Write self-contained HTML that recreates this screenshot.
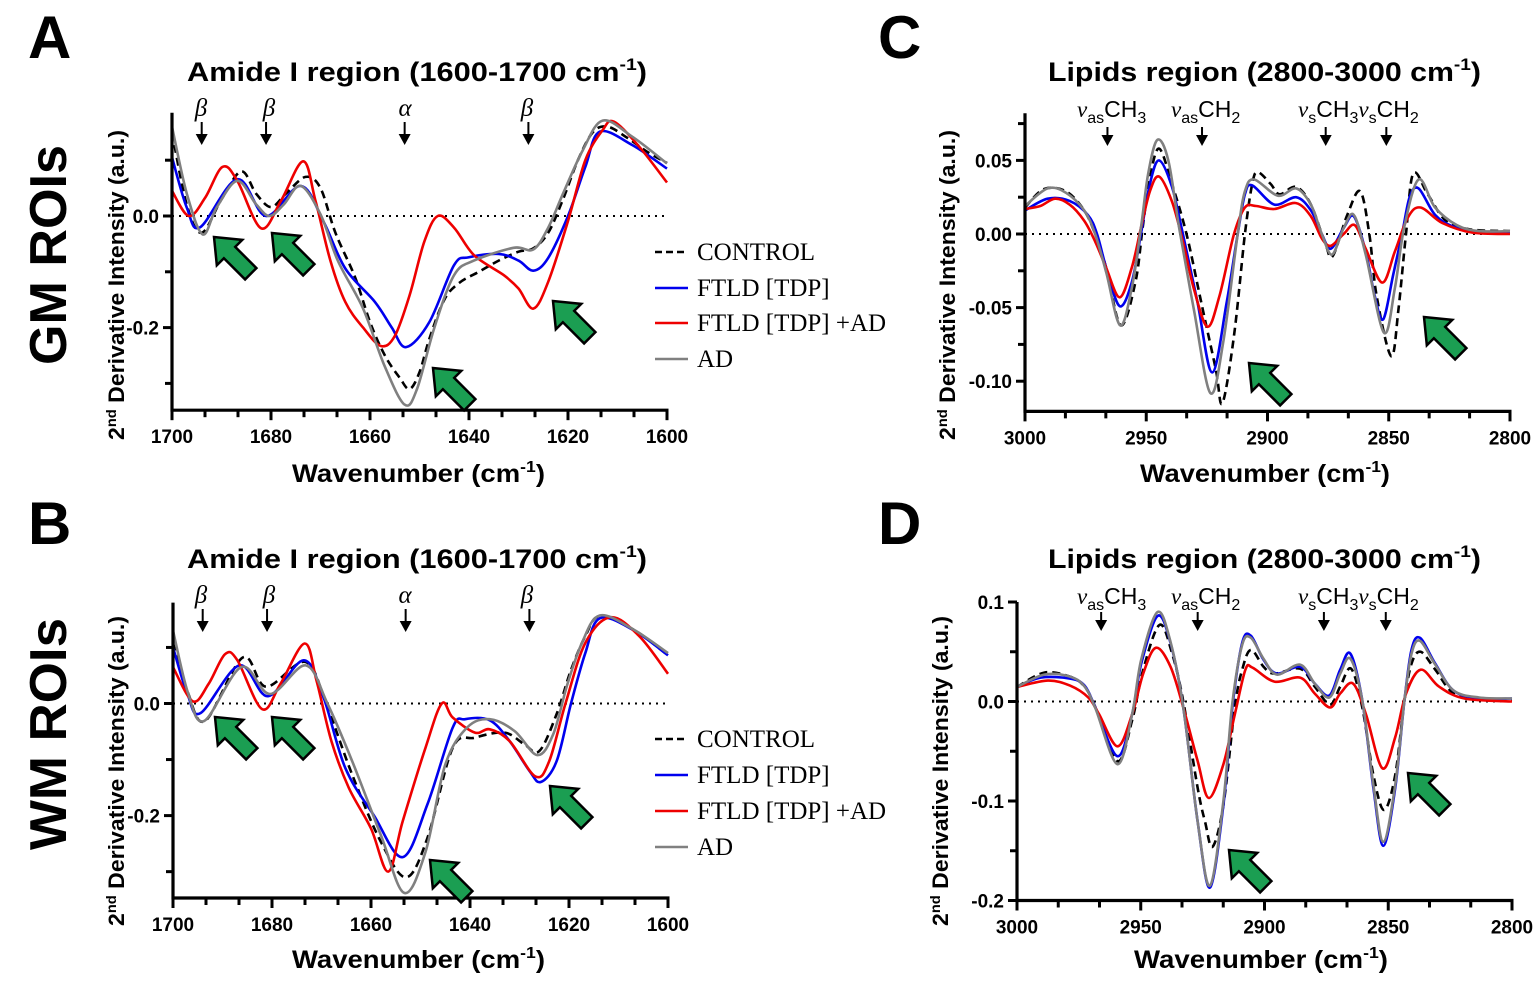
<!DOCTYPE html>
<html><head><meta charset="utf-8"><style>
html,body{margin:0;padding:0;background:#fff;}
svg{display:block;}
text{font-family:"Liberation Sans",Arial,sans-serif;}
.b{font-weight:bold;}
.tick{font-size:19px;font-weight:bold;}
.leg{font-family:"Liberation Serif",serif;font-size:25px;}
.ann{font-family:"Liberation Serif",serif;font-style:italic;font-size:25px;}
.ann2{font-family:"Liberation Sans",sans-serif;font-size:23px;}
</style></head><body>
<svg id="fig" width="1535" height="981" viewBox="0 0 1535 981" xmlns="http://www.w3.org/2000/svg">
<rect width="1535" height="981" fill="#fff"/>
<text x="28" y="58" class="b" font-size="60">A</text>
<text x="28" y="544" class="b" font-size="60">B</text>
<text x="878" y="58" class="b" font-size="60">C</text>
<text x="878" y="544" class="b" font-size="60">D</text>
<text transform="translate(66,255) rotate(-90)" text-anchor="middle" class="b" font-size="52" textLength="220" lengthAdjust="spacingAndGlyphs">GM ROIs</text>
<text transform="translate(66,734) rotate(-90)" text-anchor="middle" class="b" font-size="52" textLength="232" lengthAdjust="spacingAndGlyphs">WM ROIs</text>
<text x="187" y="81" class="b" font-size="27" textLength="460" lengthAdjust="spacingAndGlyphs">Amide I region (1600-1700 cm<tspan dy="-11" font-size="17">-1</tspan><tspan dy="11">)</tspan></text>
<text x="1048" y="81" class="b" font-size="27" textLength="433" lengthAdjust="spacingAndGlyphs">Lipids region (2800-3000 cm<tspan dy="-11" font-size="17">-1</tspan><tspan dy="11">)</tspan></text>
<text x="187" y="568" class="b" font-size="27" textLength="460" lengthAdjust="spacingAndGlyphs">Amide I region (1600-1700 cm<tspan dy="-11" font-size="17">-1</tspan><tspan dy="11">)</tspan></text>
<text x="1048" y="568" class="b" font-size="27" textLength="433" lengthAdjust="spacingAndGlyphs">Lipids region (2800-3000 cm<tspan dy="-11" font-size="17">-1</tspan><tspan dy="11">)</tspan></text>
<text transform="translate(124,285) rotate(-90)" text-anchor="middle" class="b" font-size="22" textLength="310" lengthAdjust="spacingAndGlyphs">2<tspan dy="-8" font-size="14">nd</tspan><tspan dy="8"> Derivative Intensity (a.u.)</tspan></text>
<text transform="translate(124,771) rotate(-90)" text-anchor="middle" class="b" font-size="22" textLength="310" lengthAdjust="spacingAndGlyphs">2<tspan dy="-8" font-size="14">nd</tspan><tspan dy="8"> Derivative Intensity (a.u.)</tspan></text>
<text transform="translate(955,285) rotate(-90)" text-anchor="middle" class="b" font-size="22" textLength="310" lengthAdjust="spacingAndGlyphs">2<tspan dy="-8" font-size="14">nd</tspan><tspan dy="8"> Derivative Intensity (a.u.)</tspan></text>
<text transform="translate(948,771) rotate(-90)" text-anchor="middle" class="b" font-size="22" textLength="310" lengthAdjust="spacingAndGlyphs">2<tspan dy="-8" font-size="14">nd</tspan><tspan dy="8"> Derivative Intensity (a.u.)</tspan></text>
<text x="292" y="482" class="b" font-size="25" textLength="253" lengthAdjust="spacingAndGlyphs">Wavenumber (cm<tspan dy="-10" font-size="16">-1</tspan><tspan dy="10">)</tspan></text>
<text x="1140" y="482" class="b" font-size="25" textLength="250" lengthAdjust="spacingAndGlyphs">Wavenumber (cm<tspan dy="-10" font-size="16">-1</tspan><tspan dy="10">)</tspan></text>
<text x="292" y="968" class="b" font-size="25" textLength="253" lengthAdjust="spacingAndGlyphs">Wavenumber (cm<tspan dy="-10" font-size="16">-1</tspan><tspan dy="10">)</tspan></text>
<text x="1134" y="968" class="b" font-size="25" textLength="254" lengthAdjust="spacingAndGlyphs">Wavenumber (cm<tspan dy="-10" font-size="16">-1</tspan><tspan dy="10">)</tspan></text>
<g>
<line x1="655" y1="252" x2="688" y2="252" stroke="#000" stroke-width="2.5" stroke-dasharray="7,4"/>
<text x="697" y="260" class="leg">CONTROL</text>
<line x1="655" y1="288" x2="688" y2="288" stroke="#0000ee" stroke-width="2.5"/>
<text x="697" y="296" class="leg">FTLD [TDP]</text>
<line x1="655" y1="323" x2="688" y2="323" stroke="#ee0000" stroke-width="2.5"/>
<text x="697" y="331" class="leg">FTLD [TDP] +AD</text>
<line x1="655" y1="359" x2="688" y2="359" stroke="#808080" stroke-width="2.5"/>
<text x="697" y="367" class="leg">AD</text>
</g>
<g>
<line x1="655" y1="739" x2="688" y2="739" stroke="#000" stroke-width="2.5" stroke-dasharray="7,4"/>
<text x="697" y="747" class="leg">CONTROL</text>
<line x1="655" y1="775" x2="688" y2="775" stroke="#0000ee" stroke-width="2.5"/>
<text x="697" y="783" class="leg">FTLD [TDP]</text>
<line x1="655" y1="811" x2="688" y2="811" stroke="#ee0000" stroke-width="2.5"/>
<text x="697" y="819" class="leg">FTLD [TDP] +AD</text>
<line x1="655" y1="847" x2="688" y2="847" stroke="#808080" stroke-width="2.5"/>
<text x="697" y="855" class="leg">AD</text>
</g>
<g>
<text x="201" y="116" class="ann" text-anchor="middle">β</text>
<text x="269" y="116" class="ann" text-anchor="middle">β</text>
<text x="405" y="116" class="ann" text-anchor="middle">α</text>
<text x="527" y="116" class="ann" text-anchor="middle">β</text>
</g>
<g>
<text x="201" y="603" class="ann" text-anchor="middle">β</text>
<text x="269" y="603" class="ann" text-anchor="middle">β</text>
<text x="405" y="603" class="ann" text-anchor="middle">α</text>
<text x="527" y="603" class="ann" text-anchor="middle">β</text>
</g>
<g>
<text x="1077" y="117" class="ann2"><tspan font-style="italic" font-family="Liberation Serif">v</tspan><tspan dy="6" font-size="16">as</tspan><tspan dy="-6">CH</tspan><tspan dy="6" font-size="16">3</tspan></text>
<text x="1171" y="117" class="ann2"><tspan font-style="italic" font-family="Liberation Serif">v</tspan><tspan dy="6" font-size="16">as</tspan><tspan dy="-6">CH</tspan><tspan dy="6" font-size="16">2</tspan></text>
<text x="1298" y="117" class="ann2"><tspan font-style="italic" font-family="Liberation Serif">v</tspan><tspan dy="6" font-size="16">s</tspan><tspan dy="-6">CH</tspan><tspan dy="6" font-size="16">3</tspan><tspan dy="-6" font-style="italic" font-family="Liberation Serif">v</tspan><tspan dy="6" font-size="16">s</tspan><tspan dy="-6">CH</tspan><tspan dy="6" font-size="16">2</tspan></text>
</g>
<g>
<text x="1077" y="604" class="ann2"><tspan font-style="italic" font-family="Liberation Serif">v</tspan><tspan dy="6" font-size="16">as</tspan><tspan dy="-6">CH</tspan><tspan dy="6" font-size="16">3</tspan></text>
<text x="1171" y="604" class="ann2"><tspan font-style="italic" font-family="Liberation Serif">v</tspan><tspan dy="6" font-size="16">as</tspan><tspan dy="-6">CH</tspan><tspan dy="6" font-size="16">2</tspan></text>
<text x="1298" y="604" class="ann2"><tspan font-style="italic" font-family="Liberation Serif">v</tspan><tspan dy="6" font-size="16">s</tspan><tspan dy="-6">CH</tspan><tspan dy="6" font-size="16">3</tspan><tspan dy="-6" font-style="italic" font-family="Liberation Serif">v</tspan><tspan dy="6" font-size="16">s</tspan><tspan dy="-6">CH</tspan><tspan dy="6" font-size="16">2</tspan></text>
</g>
<g id="plots"></g>
</svg>
<script>
const aControlX=[1700,1697,1694,1690,1686,1683,1680,1677,1673,1670,1667,1663,1660,1657,1654,1652,1650,1648,1645,1642,1638,1634,1630,1627,1624,1621,1618,1615,1612,1608,1604,1600];
const aControlY=[0.15,0.02,-0.03,0.03,0.08,0.04,0.016,0.04,0.07,0.05,-0.03,-0.11,-0.19,-0.25,-0.29,-0.31,-0.28,-0.22,-0.15,-0.12,-0.10,-0.08,-0.064,-0.058,-0.03,0.03,0.10,0.15,0.16,0.14,0.115,0.095];
const aBlueX=[1700,1697,1694.3,1686.8,1681,1674,1669.4,1665,1659,1655.6,1652.7,1648,1643,1640,1634,1630,1627,1624,1620,1616.5,1613.6,1607,1600];
const aBlueY=[0.105,0.015,-0.02,0.066,0.0,0.054,-0.01,-0.094,-0.154,-0.2,-0.235,-0.19,-0.088,-0.074,-0.068,-0.08,-0.098,-0.075,0,0.088,0.151,0.127,0.085];
const aRedX=[1700,1696.6,1693.3,1689.8,1686.8,1682,1678,1673.5,1671,1668,1665,1661.4,1657.8,1655,1652,1649,1646.3,1643,1639,1633,1630,1627,1624,1620,1616.5,1613,1610.7,1605.6,1600];
const aRedY=[0.045,0,0.033,0.088,0.063,-0.022,0.027,0.098,0.027,-0.08,-0.154,-0.2,-0.233,-0.215,-0.142,-0.045,0,-0.021,-0.07,-0.106,-0.13,-0.166,-0.118,-0.009,0.1,0.154,0.169,0.124,0.06];
const aGrayX=[1700,1697,1693.8,1691,1686.8,1683,1680.3,1677.4,1674,1670,1666.5,1661.4,1657,1653,1650.5,1647,1643,1639,1631,1627,1624,1621,1617,1613,1607,1600];
const aGrayY=[0.16,0.04,-0.033,0.015,0.063,0.021,0,0.021,0.054,0.003,-0.08,-0.166,-0.27,-0.338,-0.31,-0.2,-0.106,-0.08,-0.057,-0.06,-0.021,0.04,0.118,0.171,0.142,0.094];
const bControlX=[1700,1697,1693.5,1685.9,1681.2,1673.2,1668.8,1663.8,1658,1652.9,1648.6,1643.5,1639,1633,1629,1626,1622.5,1619.6,1616.7,1613.8,1607,1600];
const bControlY=[0.108,0.02,-0.031,0.082,0.03,0.074,-0.007,-0.127,-0.247,-0.31,-0.24,-0.079,-0.061,-0.052,-0.073,-0.085,-0.019,0.06,0.12,0.156,0.132,0.086];
const bBlueX=[1700,1697,1694.4,1686.6,1680.8,1673.6,1669.6,1665.2,1659.4,1653.6,1648.6,1643.5,1641,1636,1632,1628,1625.7,1622.5,1619.6,1616.7,1613.8,1607,1600];
const bBlueY=[0.1,0.015,-0.017,0.068,0.013,0.077,0.011,-0.115,-0.2,-0.274,-0.18,-0.043,-0.028,-0.03,-0.067,-0.12,-0.14,-0.103,0,0.09,0.152,0.131,0.086];
const bRedX=[1700,1696,1692.8,1689.5,1687,1682,1678.3,1673.4,1671,1668,1664.5,1660,1656.5,1653.6,1649,1645.7,1643.5,1639,1636,1632,1626.8,1624,1620.7,1616.7,1611.6,1605.8,1600];
const bRedY=[0.065,0.004,0.035,0.088,0.077,-0.01,0.035,0.107,0.041,-0.067,-0.15,-0.223,-0.3,-0.21,-0.079,0,-0.025,-0.052,-0.046,-0.067,-0.13,-0.103,0,0.108,0.154,0.12,0.053];
const bGrayX=[1700,1697,1693.7,1686.2,1680.4,1673.2,1668.8,1663.8,1658,1653.3,1649,1645,1640.6,1636,1631,1626.4,1623.2,1620.3,1617.4,1613.8,1607,1600];
const bGrayY=[0.13,0.02,-0.031,0.065,0.017,0.068,0,-0.103,-0.235,-0.338,-0.265,-0.109,-0.043,-0.028,-0.049,-0.092,-0.055,0.035,0.108,0.157,0.132,0.09];
const cControlX=[3000,2992.2,2983.1,2975.6,2971.1,2966.5,2960.5,2954.5,2951.5,2948.5,2944.7,2939.4,2933.4,2927.4,2921.3,2918.6,2913.8,2909.3,2906.3,2904,2898.7,2895,2888.2,2882.1,2876.1,2873.1,2867.1,2861.8,2858,2855,2849,2846,2842.9,2839.9,2833.9,2826.4,2815.8,2800];
const cControlY=[0.018,0.0305,0.029,0.016,0,-0.023,-0.062,-0.033,0.004,0.038,0.058,0.034,0,-0.046,-0.092,-0.115,-0.069,0,0.034,0.042,0.034,0.027,0.032,0.02,-0.007,-0.015,0.013,0.029,0,-0.042,-0.083,-0.051,0,0.041,0.027,0.009,0.003,0.002];
const cBlueX=[3000,2990.7,2981.6,2974.1,2970.3,2966.5,2961,2956,2952.2,2948.5,2944.7,2939.4,2934.9,2928.9,2922.8,2916.8,2912.3,2909.3,2906.3,2897.2,2888.2,2882.1,2877.6,2873.9,2868.6,2864.4,2859.5,2855.8,2852.3,2848.2,2844.5,2841.4,2837.7,2830.9,2823.4,2812.8,2800];
const cBlueY=[0.016,0.024,0.0225,0.013,0,-0.023,-0.049,-0.033,0,0.034,0.05,0.032,0,-0.046,-0.094,-0.046,0,0.027,0.033,0.02,0.025,0.016,0,-0.01,0.004,0.012,-0.012,-0.042,-0.058,-0.028,0,0.025,0.031,0.013,0.005,0.001,0.001];
const cRedX=[3000,2993.7,2987.6,2981.6,2975.6,2971.1,2966.5,2961,2956,2952.2,2948.5,2944.7,2939.4,2934.9,2930.4,2924.8,2919.8,2913.8,2909.3,2904.7,2897.2,2888.2,2882.1,2877.6,2873.9,2868.6,2864,2859.5,2852.7,2847.5,2842.2,2836.9,2827.9,2815.8,2800];
const cRedY=[0.017,0.019,0.024,0.02,0.009,-0.005,-0.023,-0.043,-0.023,0.004,0.029,0.039,0.022,-0.005,-0.037,-0.063,-0.042,0,0.018,0.019,0.017,0.021,0.012,-0.003,-0.008,0,0.006,-0.01,-0.033,-0.012,0.011,0.018,0.0075,0.001,0];
const cGrayX=[3000,2990.7,2983.1,2975.6,2971.1,2966.5,2960.8,2956,2952.2,2949.2,2945.4,2940.9,2936.4,2930.4,2923.6,2918.3,2912.3,2909.3,2905.5,2895.7,2888.2,2882.1,2877.6,2873.4,2868.6,2864.4,2859.5,2852,2847.5,2843.7,2837.7,2830.9,2821.9,2812.8,2800];
const cGrayY=[0.019,0.031,0.028,0.016,0,-0.026,-0.062,-0.037,0.004,0.041,0.064,0.05,0.004,-0.051,-0.108,-0.074,0,0.029,0.037,0.026,0.031,0.02,0,-0.014,0.004,0.013,-0.014,-0.067,-0.037,0.004,0.037,0.018,0.006,0.002,0.002];
const dControlX=[3000,2989,2978.6,2972.7,2968.3,2959.4,2953.5,2949,2942.4,2937.3,2932.8,2927,2924,2921,2916.6,2912,2909,2905.5,2900.4,2896,2885.6,2879.7,2873.5,2869.4,2865,2860.5,2856,2851.7,2847.2,2843.5,2840.6,2836.9,2831,2823.6,2813.3,2800];
const dControlY=[0.0146,0.029,0.025,0.015,-0.006,-0.06,-0.019,0.032,0.077,0.048,0,-0.087,-0.121,-0.146,-0.104,-0.006,0.032,0.052,0.035,0.028,0.033,0.015,-0.003,0.015,0.033,-0.006,-0.074,-0.109,-0.074,0,0.038,0.05,0.032,0.008,0.003,0.002];
const dBlueX=[3000,2990.4,2978.6,2972.7,2968.3,2959.4,2953.5,2949.8,2943.2,2938,2932.8,2927,2922,2916.6,2913,2909,2905.5,2900.4,2895,2885.6,2879.7,2873.8,2869.4,2865.3,2860.5,2856,2852,2847.2,2843.5,2840.6,2837.2,2831,2823.6,2813.3,2800];
const dBlueY=[0.0146,0.024,0.023,0.016,-0.006,-0.055,-0.013,0.038,0.086,0.059,-0.006,-0.121,-0.187,-0.104,-0.006,0.059,0.066,0.042,0.028,0.035,0.018,0.006,0.032,0.048,0.001,-0.087,-0.145,-0.087,0,0.052,0.064,0.038,0.011,0.003,0.003];
const dRedX=[3000,2987.5,2978.6,2971.2,2966.8,2959.4,2953.5,2949,2943.9,2938,2932.8,2927,2922.5,2916.6,2912,2907.7,2904.8,2896,2885.6,2879.7,2873.5,2869.4,2864.2,2859,2852.4,2847.2,2842.8,2836.9,2829.5,2819.2,2800];
const dRedY=[0.0146,0.021,0.016,0.004,-0.013,-0.045,-0.013,0.028,0.054,0.035,-0.006,-0.06,-0.097,-0.063,-0.013,0.032,0.034,0.02,0.024,0.008,-0.006,0.008,0.018,-0.013,-0.067,-0.036,0.008,0.032,0.015,0.003,0];
const dGrayX=[3000,2989,2978.6,2972.7,2968.3,2959.4,2953.5,2949.8,2943.2,2938,2932.8,2927,2922,2916.6,2913,2909,2905.5,2900.4,2895,2885.6,2879.7,2873.8,2869.4,2865.3,2860.5,2856,2852,2847.2,2843.5,2840.6,2837.2,2831,2823.6,2813.3,2800];
const dGrayY=[0.0146,0.027,0.025,0.015,-0.007,-0.063,-0.013,0.042,0.09,0.06,-0.006,-0.121,-0.185,-0.1,-0.002,0.057,0.064,0.043,0.027,0.037,0.018,0.004,0.028,0.043,0.001,-0.084,-0.141,-0.084,0,0.048,0.061,0.037,0.011,0.004,0.003];
const amideXTicks=[1700,1680,1660,1640,1620,1600];
const amideYTicks=[0.0,-0.2];
const amideYTickLabels=["0.0","-0.2"];
const lipidXTicks=[3000,2950,2900,2850,2800];
const cYTicks=[0.05,0,-0.05,-0.1];
const cYTickLabels=["0.05","0.00","-0.05","-0.10"];
const dYTicks=[0.1,0,-0.1,-0.2];
const dYTickLabels=["0.1","0.0","-0.1","-0.2"];
const amideMarks=[1694,1681,1653,1628];
const lipidMarks=[2966,2927,2876,2851];

const NS="http://www.w3.org/2000/svg";
const root=document.getElementById('plots');
function el(tag,attrs,parent){const e=document.createElementNS(NS,tag);for(const k in attrs)e.setAttribute(k,attrs[k]);(parent||root).appendChild(e);return e;}
function lin(d0,d1,p0,p1){return v=>p0+(v-d0)/(d1-d0)*(p1-p0);}
function pathD(xs,ys,sx,sy){
  const p=xs.map((x,i)=>[sx(x),sy(ys[i])]);
  let d="M"+p[0][0].toFixed(1)+","+p[0][1].toFixed(1);
  for(let i=0;i<p.length-1;i++){
    const p0=p[Math.max(0,i-1)],p1=p[i],p2=p[i+1],p3=p[Math.min(p.length-1,i+2)];
    const c1x=p1[0]+(p2[0]-p0[0])/6,c1y=p1[1]+(p2[1]-p0[1])/6;
    const c2x=p2[0]-(p3[0]-p1[0])/6,c2y=p2[1]-(p3[1]-p1[1])/6;
    d+="C"+c1x.toFixed(1)+","+c1y.toFixed(1)+" "+c2x.toFixed(1)+","+c2y.toFixed(1)+" "+p2[0].toFixed(1)+","+p2[1].toFixed(1);
  }
  return d;
}
function greenArrow(tx,ty,name){
  const g=el('polygon',{points:"0,0 -22,-18 -22,-8 -52,-8 -52,8 -22,8 -22,18",transform:`translate(${tx},${ty}) rotate(225)`,fill:"#1b9e52",stroke:"#000","stroke-width":"2.5","stroke-linejoin":"miter"});
  
  
}
function downArrow(x,y1,y2,name){
  const g=el('g',{});
  
  
  el('line',{x1:x,y1:y1,x2:x,y2:y2-9,stroke:"#000","stroke-width":"2"},g);
  el('polygon',{points:`${x-6},${y2-11} ${x+6},${y2-11} ${x},${y2}`,fill:"#000"},g);
}
function panel(cfg){
  const {id,sx,sy,xd0,xd1,yTop,yBot,xTicks,xMinorStep,yTicks,yLabels,yMinor,series,arrows,marks,markY1,markY2}=cfg;
  const g=el('g',{});
  
  
  const X0=sx(xd0),X1=sx(xd1),Yb=sy(yBot),Yt=sy(yTop);
  const z=el('line',{x1:X0,y1:sy(0),x2:X1,y2:sy(0),stroke:"#000","stroke-width":"2","stroke-dasharray":"2,5"},g);
  
  
  const sty={control:{stroke:"#000",dash:"8,5"},blue:{stroke:"#0000ee"},red:{stroke:"#ee0000"},gray:{stroke:"#808080"}};
  series.forEach(s=>{
    const p=el('path',{d:pathD(s.x,s.y,sx,sy),fill:"none",stroke:sty[s.k].stroke,"stroke-width":"2.6","stroke-linejoin":"round"},g);
    if(sty[s.k].dash)p.setAttribute('stroke-dasharray',sty[s.k].dash);
    
    
  });
  const ya=el('line',{x1:X0,y1:Yt,x2:X0,y2:Yb+1.5,stroke:"#000","stroke-width":"3.2"},g);
  
  
  const xa=el('line',{x1:X0-1.5,y1:Yb,x2:X1+1.5,y2:Yb,stroke:"#000","stroke-width":"3.2"},g);
  
  
  const dir=xd1<xd0?-1:1;
  for(let v=xd0;dir*(xd1-v)>=-1e-6;v+=dir*xMinorStep){
    const major=xTicks.some(t=>Math.abs(t-v)<1e-6);
    el('line',{x1:sx(v),y1:Yb,x2:sx(v),y2:Yb+(major?10:7),stroke:"#000","stroke-width":"3"},g);
  }
  xTicks.forEach(t=>{
    const tl=el('text',{x:sx(t),y:Yb+33,"text-anchor":"middle",class:"tick"},g);
    tl.textContent=String(t);
    
    
  });
  yMinor.forEach(v=>el('line',{x1:X0-7,y1:sy(v),x2:X0,y2:sy(v),stroke:"#000","stroke-width":"3"},g));
  yTicks.forEach((t,i)=>{
    el('line',{x1:X0-9,y1:sy(t),x2:X0,y2:sy(t),stroke:"#000","stroke-width":"3"},g);
    const tl=el('text',{x:X0-13,y:sy(t)+7,"text-anchor":"end",class:"tick"},g);
    tl.textContent=yLabels[i];
    
    
  });
  marks.forEach((m,i)=>downArrow(sx(m),markY1,markY2,'band-arrow-'+id+'-'+i));
  arrows.forEach((a,i)=>greenArrow(a[0],a[1],'highlight-arrow-'+id+'-'+i));
}
panel({id:'a',sx:lin(1700,1600,172,667),sy:lin(0,-0.2,216,327.6),xd0:1700,xd1:1600,yTop:0.185,yBot:-0.348,
  xTicks:amideXTicks,xMinorStep:20/3,yTicks:amideYTicks,yLabels:amideYTickLabels,yMinor:[0.1,-0.1,-0.3],
  series:[{k:'control',name:'control',x:aControlX,y:aControlY},{k:'blue',name:'ftld-tdp',x:aBlueX,y:aBlueY},{k:'red',name:'ftld-tdp-ad',x:aRedX,y:aRedY},{k:'gray',name:'ad',x:aGrayX,y:aGrayY}],
  arrows:[[214,237],[272,233],[433,368],[553,301]],marks:amideMarks,markY1:122,markY2:145});
panel({id:'b',sx:lin(1700,1600,173,668),sy:lin(0,-0.2,703.5,815.6),xd0:1700,xd1:1600,yTop:0.18,yBot:-0.347,
  xTicks:amideXTicks,xMinorStep:20/3,yTicks:amideYTicks,yLabels:amideYTickLabels,yMinor:[0.1,-0.1,-0.3],
  series:[{k:'control',name:'control',x:bControlX,y:bControlY},{k:'blue',name:'ftld-tdp',x:bBlueX,y:bBlueY},{k:'red',name:'ftld-tdp-ad',x:bRedX,y:bRedY},{k:'gray',name:'ad',x:bGrayX,y:bGrayY}],
  arrows:[[215,717],[272,717],[430,860],[550,786]],marks:amideMarks,markY1:609,markY2:632});
panel({id:'c',sx:lin(3000,2800,1025,1510),sy:lin(0,0.05,234,160.4),xd0:3000,xd1:2800,yTop:0.082,yBot:-0.1205,
  xTicks:lipidXTicks,xMinorStep:50/3,yTicks:cYTicks,yLabels:cYTickLabels,yMinor:[0.075,0.025,-0.025,-0.075],
  series:[{k:'control',name:'control',x:cControlX,y:cControlY},{k:'blue',name:'ftld-tdp',x:cBlueX,y:cBlueY},{k:'red',name:'ftld-tdp-ad',x:cRedX,y:cRedY},{k:'gray',name:'ad',x:cGrayX,y:cGrayY}],
  arrows:[[1249,363],[1424,317]],marks:lipidMarks,markY1:127,markY2:146});
panel({id:'d',sx:lin(3000,2800,1017,1512),sy:lin(0,0.1,701.5,602),xd0:3000,xd1:2800,yTop:0.1,yBot:-0.2,
  xTicks:lipidXTicks,xMinorStep:50/3,yTicks:dYTicks,yLabels:dYTickLabels,yMinor:[0.05,-0.05,-0.15],
  series:[{k:'control',name:'control',x:dControlX,y:dControlY},{k:'blue',name:'ftld-tdp',x:dBlueX,y:dBlueY},{k:'red',name:'ftld-tdp-ad',x:dRedX,y:dRedY},{k:'gray',name:'ad',x:dGrayX,y:dGrayY}],
  arrows:[[1229,850],[1408,773]],marks:lipidMarks,markY1:612,markY2:631});
</script>
</body></html>
